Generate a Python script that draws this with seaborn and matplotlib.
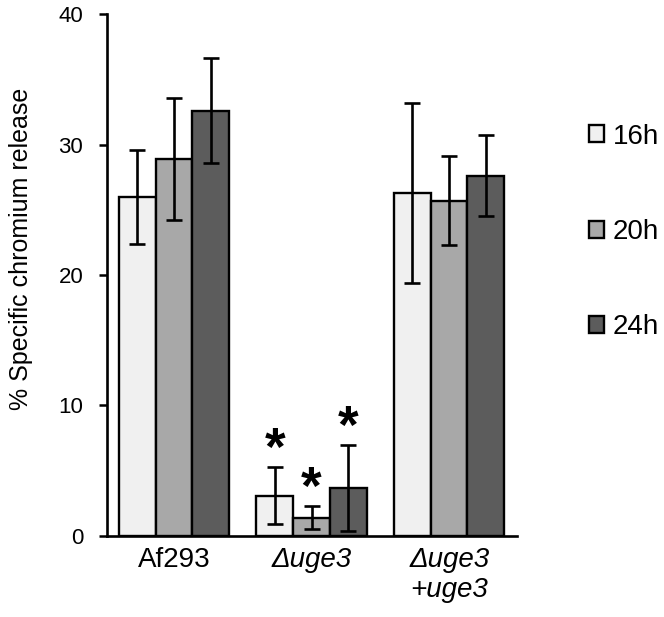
import numpy as np
import pandas as pd
import matplotlib
matplotlib.use("Agg")
import matplotlib.pyplot as plt
import seaborn as sns
from matplotlib.patches import Patch

# data
strains = ["Af293", "uge3", "uge3comp"]
strain_labels = ["Af293", "\u0394uge3", "\u0394uge3\n+uge3"]
label_italic = [False, True, True]
timepoints = ["16h", "20h", "24h"]
means_16h = [26.0, 3.1, 26.3]
means_20h = [28.9, 1.4, 25.7]
means_24h = [32.6, 3.7, 27.6]
err_16h = [3.6, 2.2, 6.9]
err_20h = [4.7, 0.9, 3.4]
err_24h = [4.0, 3.3, 3.1]
signif = [[False, False, False], [True, True, True], [False, False, False]]  # per strain, per time
colors = ["#f0f0f0", "#a8a8a8", "#5c5c5c"]

sns.set_style("white")
plt.rcParams["font.family"] = ["Liberation Sans", "DejaVu Sans"]
plt.rcParams["text.color"] = "black"
plt.rcParams["axes.labelcolor"] = "black"
plt.rcParams["xtick.color"] = "black"
plt.rcParams["ytick.color"] = "black"

rows = []
for t, m, e in zip(timepoints, [means_16h, means_20h, means_24h], [err_16h, err_20h, err_24h]):
    for s, mv, ev in zip(strains, m, e):
        rows.append({"strain": s, "time": t, "value": mv, "err": ev})
df = pd.DataFrame(rows)

fig = plt.figure(figsize=(6.64, 6.17), dpi=100)
ax = fig.add_axes([0.161, 0.1313, 0.618, 0.846])

sns.barplot(data=df, x="strain", y="value", hue="time", order=strains,
            hue_order=timepoints, palette=colors, errorbar=None,
            edgecolor="black", linewidth=1.7, width=0.8, ax=ax, legend=False)

# error bars and asterisks on top of each bar
for i, t in enumerate(timepoints):
    sub = df[df["time"] == t].set_index("strain").loc[strains]
    bars = ax.containers[i]
    xs = [b.get_x() + b.get_width() / 2 for b in bars]
    ax.errorbar(xs, sub["value"], yerr=sub["err"], fmt="none", ecolor="black",
                elinewidth=1.9, capsize=5.6, capthick=1.9, zorder=5)
    for j, s in enumerate(strains):
        if signif[j][i]:
            top = sub.loc[s, "value"] + sub.loc[s, "err"]
            ax.text(xs[j], top - 0.7, "*", ha="center", va="bottom",
                    fontsize=38, fontweight="bold", color="black")

ax.set_ylim(0, 40)
ax.set_xlim(-0.487, 2.495)
ax.set_yticks([0, 10, 20, 30, 40])
ax.set_xticks(range(len(strains)))
ax.set_xticklabels(strain_labels, fontsize=20, linespacing=1.2)
for lab, it in zip(ax.get_xticklabels(), label_italic):
    if it:
        lab.set_fontstyle("italic")
ax.set_xlabel("")
ax.set_ylabel("% Specific chromium release", fontsize=18)
ax.yaxis.set_label_coords(-0.18, 0.55)
ax.tick_params(axis="y", labelsize=16, direction="out", length=6, width=1.8, left=True, pad=11)
ax.tick_params(axis="x", length=0, pad=8)
for sp in ["top", "right"]:
    ax.spines[sp].set_visible(False)
for sp in ["left", "bottom"]:
    ax.spines[sp].set_linewidth(1.9)
    ax.spines[sp].set_color("black")

handles = [Patch(facecolor=c, edgecolor="black", linewidth=1.7) for c in colors]
fig.legend(handles, timepoints, loc="center left", bbox_to_anchor=(0.887, 0.624),
           frameon=False, fontsize=20, labelspacing=2.5, handlelength=0.55,
           handleheight=0.55, handletextpad=0.3, borderpad=0, borderaxespad=0)

fig.savefig("out.png", dpi=100)
